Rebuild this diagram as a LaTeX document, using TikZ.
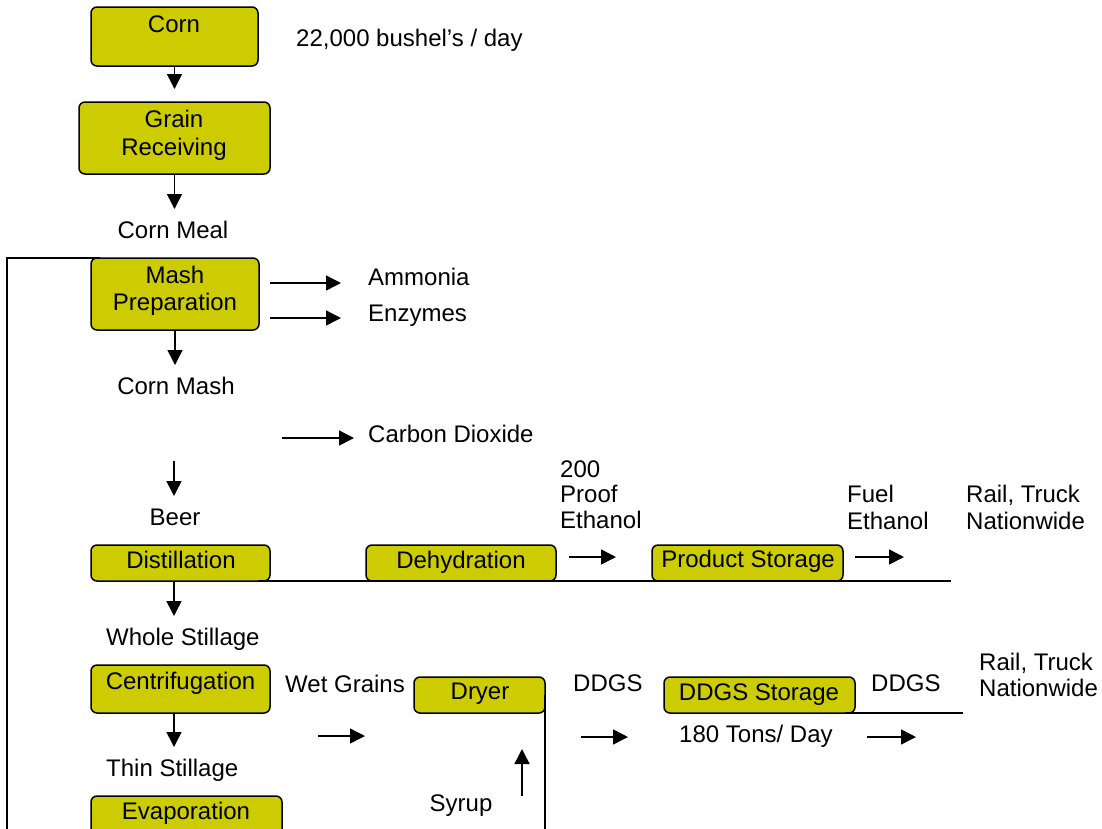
\documentclass[tikz,border=0pt]{standalone}
\usepackage{fontspec}
\setmainfont{Liberation Sans}
\usetikzlibrary{arrows.meta}
\definecolor{boxfill}{HTML}{CCCC00}
\begin{document}
\begin{tikzpicture}[x=1pt,y=-1pt,
  box/.style={draw=black, fill=boxfill, line width=1.5pt, rounded corners=6pt, inner sep=0pt, outer sep=0pt, anchor=north west},
  lbl/.style={inner sep=0pt, font=\fontsize{24}{27}\selectfont},
  flow/.style={line width=1.5pt, -{Triangle[width=15pt,length=15pt]}},
  wire/.style={line width=1.5pt}]
\useasboundingbox (0,0) rectangle (1102,828);

% boxes
\node[box, minimum width=167pt, minimum height=59pt] (corn) at (91,7) {};
\node[box, minimum width=191pt, minimum height=72pt] (grain) at (79,102) {};
\node[box, minimum width=168pt, minimum height=72pt] (mash) at (91,258) {};
\node[box, minimum width=179pt, minimum height=36pt] (distill) at (91,545) {};
\node[box, minimum width=190pt, minimum height=36pt] (dehyd) at (366,545) {};
\node[box, minimum width=191pt, minimum height=36pt] (prod) at (652,545) {};
\node[box, minimum width=179pt, minimum height=48pt] (centri) at (91,665) {};
\node[box, minimum width=131pt, minimum height=36pt] (dryer) at (414,677) {};
\node[box, minimum width=191pt, minimum height=36pt] (ddgsS) at (664,677) {};
\node[box, minimum width=191pt, minimum height=60pt] (evap) at (91,796) {};

% box texts
\node[lbl, anchor=north] (cornT) at (174,15.4) {Corn};
\node[lbl, anchor=north, align=center, font=\fontsize{24}{28}\selectfont] (grainT) at (174,110.4) {Grain\\Receiving};
\node[lbl, anchor=north, align=center] (mashT) at (175,266.4) {Mash\\Preparation};
\node[lbl, anchor=north] (distillT) at (181,550.4) {Distillation};
\node[lbl, anchor=north] (dehydT) at (461,550.4) {Dehydration};
\node[lbl, anchor=north] (prodT) at (748,549.4) {Product Storage};
\node[lbl, anchor=north] (centriT) at (180.5,671.4) {Centrifugation};
\node[lbl, anchor=north] (dryerT) at (480,682.4) {Dryer};
\node[lbl, anchor=north] (ddgsST) at (759,683.4) {DDGS Storage};
\node[lbl, anchor=north] (evapT) at (186,801.4) {Evaporation};

% free labels
\node[lbl, anchor=north west] (bushel) at (296,29.4) {22,000 bushel’s / day};
\node[lbl, anchor=north] (meal) at (173,221.4) {Corn Meal};
\node[lbl, anchor=north west] (ammonia) at (368,268.4) {Ammonia};
\node[lbl, anchor=north west] (enzymes) at (368,304.4) {Enzymes};
\node[lbl, anchor=north] (cmash) at (176,376.4) {Corn Mash};
\node[lbl, anchor=north west] (co2) at (368,424.4) {Carbon Dioxide};
\node[lbl, anchor=north] (beer) at (175,508.4) {Beer};
\node[lbl, anchor=north west, align=left, font=\fontsize{24}{25.5}\selectfont] (proof) at (560,460.4) {200\\Proof\\Ethanol};
\node[lbl, anchor=north west, align=left] (fuel) at (847,484.4) {Fuel\\Ethanol};
\node[lbl, anchor=north west, align=left] (rail1) at (966,484.4) {Rail, Truck\\Nationwide};
\node[lbl, anchor=north west] (whole) at (106,627.4) {Whole Stillage};
\node[lbl, anchor=north west] (wet) at (285,674.4) {Wet Grains};
\node[lbl, anchor=north west] (ddgs1) at (573,674.4) {DDGS};
\node[lbl, anchor=north west] (ddgs2) at (871,674.4) {DDGS};
\node[lbl, anchor=north west, align=left, font=\fontsize{24}{26}\selectfont] (rail2) at (979,652.4) {Rail, Truck\\Nationwide};
\node[lbl, anchor=north west] (tons) at (679,724.4) {180 Tons/ Day};
\node[lbl, anchor=north west] (thin) at (106,758.4) {Thin Stillage};
\node[lbl, anchor=north] (syrup) at (461,794.4) {Syrup};

% coordinates for free arrow ends
\coordinate (amA) at (270,283); \coordinate (amB) at (341,283);
\coordinate (enA) at (270,318); \coordinate (enB) at (341,318);
\coordinate (coA) at (282,438); \coordinate (coB) at (354,438);
\coordinate (beA) at (174,461); \coordinate (beB) at (174,496);
\coordinate (prA) at (569,557); \coordinate (prB) at (616,557);
\coordinate (fuA) at (855,557); \coordinate (fuB) at (904,557);
\coordinate (wgA) at (318,736); \coordinate (wgB) at (365,736);
\coordinate (ddA) at (581,737); \coordinate (ddB) at (628,737);
\coordinate (tnA) at (867,737); \coordinate (tnB) at (916,737);
\coordinate (syA) at (522,796); \coordinate (syB) at (522,749);
\coordinate (loopbot) at (7,832);
\coordinate (lineEnd) at (951,581);
\coordinate (ddgsEnd) at (963,713);
\coordinate (dryerBot) at (545,832);

% vertical flow arrows
\draw[flow] (corn.south) -- ++(0,23);
\draw[flow] (grain.south) -- ++(0,35);
\draw[flow] (mash.south) -- ++(0,35);
\draw[flow] (beA) -- (beB);
\draw[flow] ([xshift=-6.5pt]distill.south) -- ++(0,35);
\draw[flow] ([xshift=-6.5pt]centri.south) -- ++(0,34);

% side arrows
\draw[flow] (amA) -- (amB);
\draw[flow] (enA) -- (enB);
\draw[flow] (coA) -- (coB);
\draw[flow] (prA) -- (prB);
\draw[flow] (fuA) -- (fuB);
\draw[flow] (wgA) -- (wgB);
\draw[flow] (ddA) -- (ddB);
\draw[flow] (tnA) -- (tnB);
\draw[flow] (syA) -- (syB);

% lines
\draw[wire] (loopbot) |- ([xshift=9pt]mash.north west);
\draw[wire] ([xshift=-12pt]distill.south east) -- (lineEnd);
\draw[wire] (dryer.east) -- (dryerBot);
\draw[wire] ([xshift=-10pt]ddgsS.south east) -- (ddgsEnd);
\end{tikzpicture}
\end{document}
